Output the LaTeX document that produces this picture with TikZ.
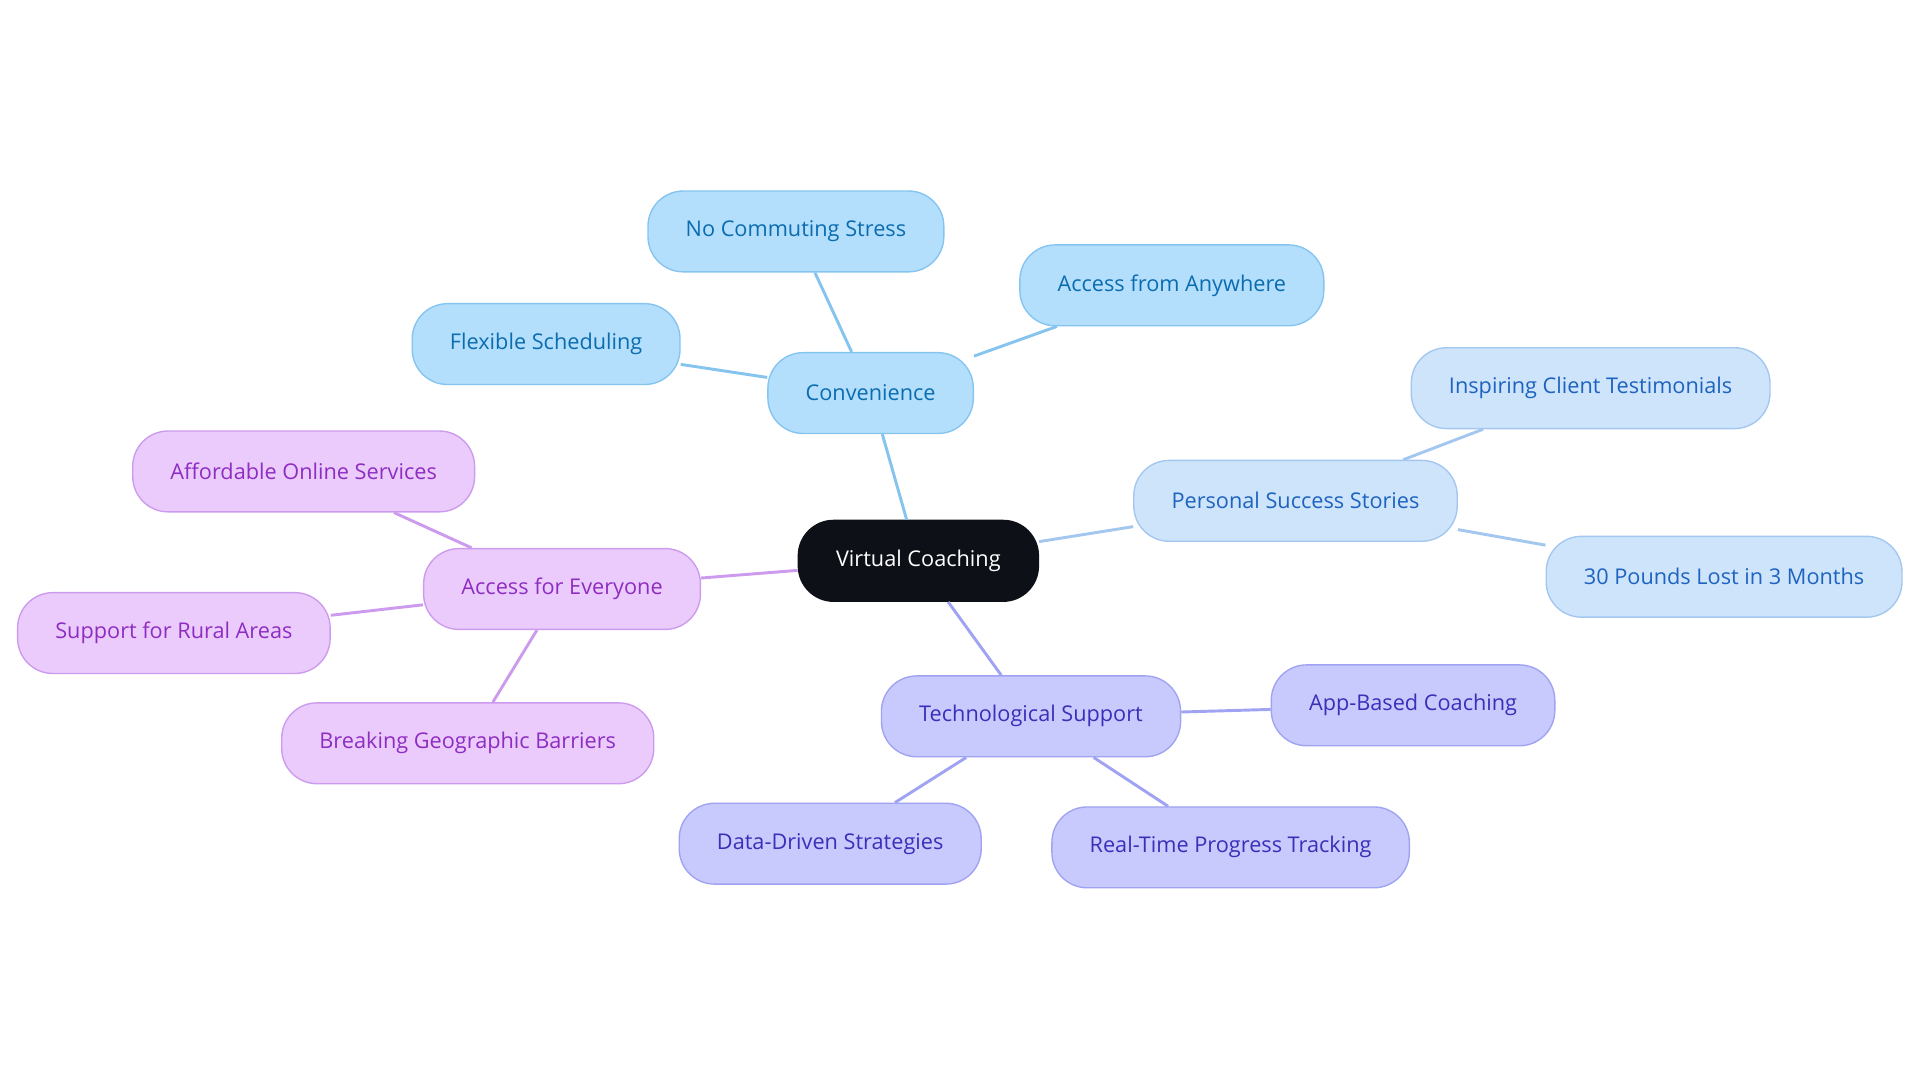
\documentclass[tikz,border=0pt]{standalone}
\usepackage{fontspec}
\setmainfont{Open Sans}
\definecolor{rootfill}{HTML}{0D1117}
\definecolor{convfill}{HTML}{B3DFFC}
\definecolor{convline}{HTML}{86C4F0}
\definecolor{convtext}{HTML}{0B6CB0}
\definecolor{persfill}{HTML}{CDE4FB}
\definecolor{persline}{HTML}{A4C7F0}
\definecolor{perstext}{HTML}{1E63BF}
\definecolor{accfill}{HTML}{EBCBFC}
\definecolor{accline}{HTML}{CD9BEE}
\definecolor{acctext}{HTML}{8E2DC2}
\definecolor{techfill}{HTML}{C8CAFD}
\definecolor{techline}{HTML}{A0A3F2}
\definecolor{techtext}{HTML}{3A2FB8}
\tikzset{
  mmnode/.style={rounded corners=0.72cm, minimum height=1.65cm, inner xsep=0.77cm,
    font=\fontsize{12.6}{14}\selectfont, line width=0.8pt},
  rootnode/.style={mmnode, fill=rootfill, draw=rootfill, text=white},
  convnode/.style={mmnode, fill=convfill, draw=convline, text=convtext},
  persnode/.style={mmnode, fill=persfill, draw=persline, text=perstext},
  accnode/.style={mmnode, fill=accfill, draw=accline, text=acctext},
  technode/.style={mmnode, fill=techfill, draw=techline, text=techtext},
  link/.style={line width=1.7pt}
}
\begin{document}
\begin{tikzpicture}[x=0.025cm, y=-0.025cm]
  \useasboundingbox (0,0) rectangle (1568,884);
  % centre
  \node[rootnode] (vc) at (750,458) {Virtual Coaching};
  % convenience branch
  \node[convnode] (conv) at (711,321) {Convenience};
  \node[convnode] (nocomm) at (650,189) {No Commuting Stress};
  \node[convnode] (anywhere) at (957,233) {Access from Anywhere};
  \node[convnode] (flex) at (446,281) {Flexible Scheduling};
  % success stories
  \node[persnode] (pers) at (1058,409) {Personal Success Stories};
  \node[persnode] (testim) at (1299,317) {Inspiring Client Testimonials};
  \node[persnode] (pounds) at (1408,471) {30 Pounds Lost in 3 Months};
  % access
  \node[accnode] (access) at (459,481) {Access for Everyone};
  \node[accnode] (afford) at (248,385) {Affordable Online Services};
  \node[accnode] (rural) at (142,517) {Support for Rural Areas};
  \node[accnode] (geo) at (382,607) {Breaking Geographic Barriers};
  % technology
  \node[technode] (tech) at (842,585) {Technological Support};
  \node[technode] (app) at (1154,576) {App-Based Coaching};
  \node[technode] (data) at (678,689) {Data-Driven Strategies};
  \node[technode] (realtime) at (1005,692) {Real-Time Progress Tracking};
  % links
  \draw[link, convline] (vc) -- (conv);
  \draw[link, convline] (conv) -- (nocomm);
  \draw[link, convline] (conv) -- (anywhere);
  \draw[link, convline] (conv) -- (flex);
  \draw[link, persline] (vc) -- (pers);
  \draw[link, persline] (pers) -- (testim);
  \draw[link, persline] (pers) -- (pounds);
  \draw[link, accline] (vc) -- (access);
  \draw[link, accline] (access) -- (afford);
  \draw[link, accline] (access) -- (rural);
  \draw[link, accline] (access) -- (geo);
  \draw[link, techline] (vc) -- (tech);
  \draw[link, techline] (tech) -- (app);
  \draw[link, techline] (tech) -- (data);
  \draw[link, techline] (tech) -- (realtime);
\end{tikzpicture}
\end{document}
